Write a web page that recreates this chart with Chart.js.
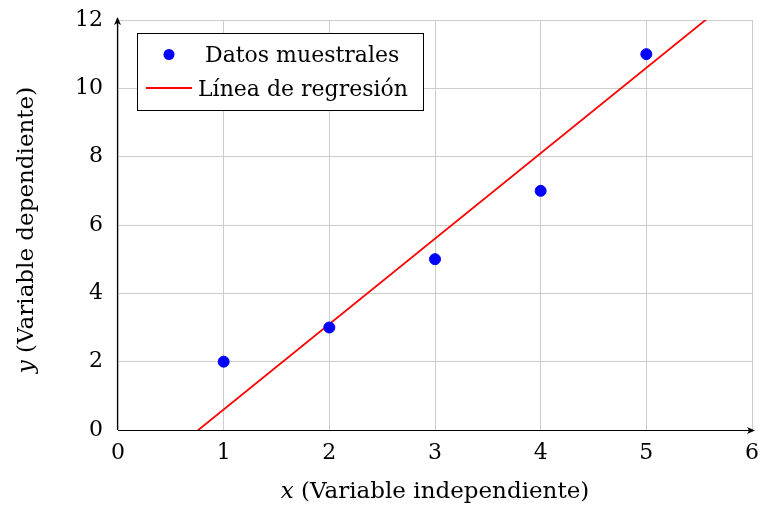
<!DOCTYPE html>
<html>
<head>
<meta charset="utf-8">
<script src="https://cdn.jsdelivr.net/npm/chart.js@4/dist/chart.umd.min.js"></script>
<style>
  html, body { margin: 0; padding: 0; background: #fff; }
  #wrap { width: 759px; height: 506px; position: relative; }
</style>
</head>
<body>
<div id="wrap"><canvas id="c" width="759" height="506"></canvas></div>
<script>
// Sample observations
const sampleX = [1, 2, 3, 4, 5];
const sampleY = [2, 3, 5, 7, 11];
// Fitted line endpoints (clipped to the plot area by Chart.js)
const lineX = [0, 6];
const lineY = [-1.9, 13.1];
// Axis ticks
const xTicks = [0, 1, 2, 3, 4, 5, 6];
const yTicks = [0, 2, 4, 6, 8, 10, 12];

const seriesLabels = ['Datos muestrales', 'Línea de regresión'];
const FONT = '"DejaVu Serif", "Liberation Serif", serif';
const FS = 22;   // ticks and legend
const TS = 23;   // axis titles

const pts = sampleX.map((x, i) => ({ x, y: sampleY[i] }));
const reg = lineX.map((x, i) => ({ x, y: lineY[i] }));

// Axis lines with arrowheads, axis titles and a boxed legend
const decor = {
  id: 'decor',
  afterDatasetsDraw(chart) {
    const { ctx, chartArea: a } = chart;
    ctx.save();
    ctx.strokeStyle = '#000';
    ctx.fillStyle = '#000';
    ctx.lineWidth = 1.2;
    // x axis
    ctx.beginPath();
    ctx.moveTo(a.left, a.bottom + 0.5);
    ctx.lineTo(a.right + 2, a.bottom + 0.5);
    ctx.stroke();
    ctx.beginPath();
    ctx.moveTo(a.right + 3, a.bottom + 0.5);
    ctx.lineTo(a.right - 5, a.bottom - 3);
    ctx.lineTo(a.right - 3, a.bottom + 0.5);
    ctx.lineTo(a.right - 5, a.bottom + 4);
    ctx.closePath();
    ctx.fill();
    // y axis
    ctx.beginPath();
    ctx.moveTo(a.left - 0.5, a.bottom);
    ctx.lineTo(a.left - 0.5, a.top - 2);
    ctx.stroke();
    ctx.beginPath();
    ctx.moveTo(a.left - 0.5, a.top - 3);
    ctx.lineTo(a.left - 4, a.top + 5);
    ctx.lineTo(a.left - 0.5, a.top + 3);
    ctx.lineTo(a.left + 3, a.top + 5);
    ctx.closePath();
    ctx.fill();

    // axis titles (italic variable name + upright description)
    const fi = 'italic ' + TS + 'px ' + FONT, fn = TS + 'px ' + FONT;
    ctx.font = fi;
    const xi = ctx.measureText('x').width;
    ctx.font = fn;
    const xr = ctx.measureText(' (Variable independiente)').width;
    const cx = (a.left + a.right) / 2;
    const sx = cx - (xi + xr) / 2;
    ctx.textBaseline = 'alphabetic';
    ctx.textAlign = 'left';
    ctx.font = fi;
    ctx.fillText('x', sx, 498);
    ctx.font = fn;
    ctx.fillText(' (Variable independiente)', sx + xi, 498);

    ctx.save();
    ctx.translate(33, 230);
    ctx.rotate(-Math.PI / 2);
    ctx.font = fi;
    const yi = ctx.measureText('y').width;
    ctx.font = fn;
    const yr = ctx.measureText(' (Variable dependiente)').width;
    const sy = -(yi + yr) / 2;
    ctx.font = fi;
    ctx.fillText('y', sy, 0);
    ctx.font = fn;
    ctx.fillText(' (Variable dependiente)', sy + yi, 0);
    ctx.restore();

    // legend box
    const bx = 137.5, by = 33.5, bw = 286, bh = 77;
    ctx.fillStyle = '#fff';
    ctx.fillRect(bx, by, bw, bh);
    ctx.lineWidth = 1;
    ctx.strokeStyle = '#000';
    ctx.strokeRect(bx, by, bw, bh);
    const ds = chart.data.datasets;
    ctx.font = FS + 'px ' + FONT;
    ctx.textBaseline = 'alphabetic';
    ctx.fillStyle = ds[0].backgroundColor;
    ctx.beginPath();
    ctx.arc(169, 54.5, 5.5, 0, Math.PI * 2);
    ctx.fill();
    ctx.fillStyle = '#000';
    ctx.fillText(ds[0].label, 205, 62);
    ctx.strokeStyle = ds[1].borderColor;
    ctx.lineWidth = 1.8;
    ctx.beginPath();
    ctx.moveTo(146, 88);
    ctx.lineTo(192, 88);
    ctx.stroke();
    ctx.fillStyle = '#000';
    ctx.fillText(ds[1].label, 198, 96);
    ctx.restore();
  }
};

new Chart(document.getElementById('c'), {
  type: 'scatter',
  data: {
    datasets: [
      {
        label: seriesLabels[0],
        data: pts,
        backgroundColor: '#0000ff',
        borderColor: '#0000ff',
        pointRadius: 5.5,
        pointHoverRadius: 5.5,
        order: 1
      },
      {
        label: seriesLabels[1],
        type: 'line',
        data: reg,
        borderColor: '#ff0000',
        backgroundColor: '#ff0000',
        borderWidth: 1.8,
        pointRadius: 0,
        fill: false,
        order: 2
      }
    ]
  },
  options: {
    responsive: false,
    animation: false,
    events: [],
    devicePixelRatio: 1,
    layout: { padding: { left: 0, top: 20, right: 7, bottom: 0 } },
    plugins: { legend: { display: false }, tooltip: { enabled: false } },
    scales: {
      x: {
        type: 'linear',
        min: 0, max: 6,
        afterFit(s) { s.height = 76; s.paddingLeft = 0; s.paddingRight = 0; },
        afterBuildTicks(s) { s.ticks = xTicks.map(v => ({ value: v })); },
        grid: { color: '#cccccc', lineWidth: 1, drawTicks: false },
        border: { display: false },
        ticks: { color: '#000', padding: 10, font: { family: FONT, size: FS } }
      },
      y: {
        type: 'linear',
        min: 0, max: 12,
        afterFit(s) { s.width = 118; s.paddingTop = 0; s.paddingBottom = 0; },
        afterBuildTicks(s) { s.ticks = yTicks.map(v => ({ value: v })); },
        grid: { color: '#cccccc', lineWidth: 1, drawTicks: false },
        border: { display: false },
        ticks: { color: '#000', padding: 15, font: { family: FONT, size: FS } }
      }
    }
  },
  plugins: [decor]
});
</script>
</body>
</html>
